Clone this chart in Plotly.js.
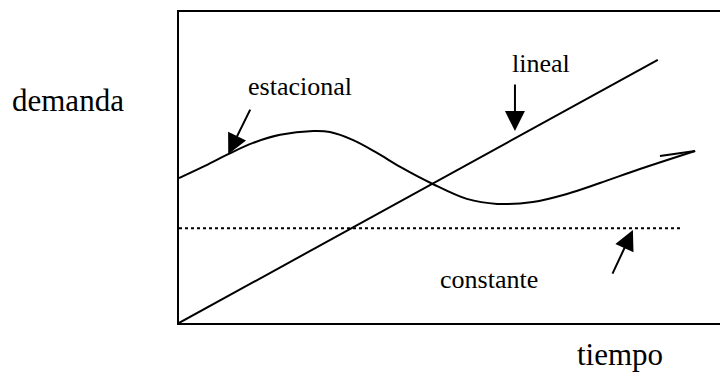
<!DOCTYPE html>
<html>
<head>
<meta charset="utf-8">
<script src="https://cdn.plot.ly/plotly-3.0.1.min.js"></script>
<style>html,body{margin:0;padding:0;background:#fff;}#chart{width:720px;height:374px;}</style>
</head>
<body>
<div id="chart"></div>
<script>
// Lineal demand (straight trend)
var linealX = [0, 88.5];
var linealY = [0, 84.6];
// Constant demand (dotted)
var constX = [0, 93.0];
var constY = [30.5, 30.5];
// Seasonal demand (wave)
var estacionalX = [0, 4.4, 9.1, 13.7, 18.7, 24.8, 27.9, 32.2, 36.6, 40.9, 46.9, 53.2, 58.8, 65.4, 71.7, 77.8, 85.2, 95.4];
var estacionalY = [46.6, 50.2, 54.3, 57.9, 60.5, 61.7, 61.4, 58.8, 54.7, 50.2, 44.7, 39.9, 38.3, 38.9, 41.5, 45.0, 49.5, 55.3];
// Small hook at the end of the seasonal line
var hookX = [95.4, 88.9];
var hookY = [55.3, 53.7];

// Labels
var labels = ["estacional", "lineal", "constante"];
var labelX = [22.4, 66.9, 57.3];
var labelY = [76.2, 83.6, 14.1];
// Arrows: tail -> tip
var arrowTailX = [13.3, 62.1, 80.0];
var arrowTailY = [69.1, 77.2, 15.4];
var arrowTipX = [9.1, 62.1, 83.9];
var arrowTipY = [54.3, 61.7, 29.9];

var axisTitleX = "tiempo";
var axisTitleY = "demanda";

var serif = "Liberation Serif, Times New Roman, serif";

var traces = [
  {x: linealX, y: linealY, mode: "lines", line: {color: "#000", width: 2}, hoverinfo: "skip", name: "lineal"},
  {x: constX, y: constY, mode: "lines", line: {color: "#000", width: 2, dash: "3px,3px"}, hoverinfo: "skip", name: "constante"},
  {x: estacionalX, y: estacionalY, mode: "lines", line: {color: "#000", width: 2, shape: "spline", smoothing: 1}, hoverinfo: "skip", name: "estacional"},
  {x: hookX, y: hookY, mode: "lines", line: {color: "#000", width: 2}, hoverinfo: "skip", name: "estacional"}
];

var annotations = [];
for (var i = 0; i < labels.length; i++) {
  annotations.push({x: labelX[i], y: labelY[i], xref: "x", yref: "y", text: labels[i], showarrow: false,
    font: {family: serif, size: 26, color: "#000"}, xanchor: "center", yanchor: "middle"});
  annotations.push({x: arrowTipX[i], y: arrowTipY[i], xref: "x", yref: "y", ax: arrowTailX[i], ay: arrowTailY[i],
    axref: "x", ayref: "y", text: "", showarrow: true, arrowhead: 2, arrowsize: 2, arrowwidth: 2,
    arrowcolor: "#000", standoff: 0, startstandoff: 0});
}
annotations.push({x: -0.206, y: 0.715, xref: "paper", yref: "paper", text: axisTitleY, showarrow: false,
  font: {family: serif, size: 31, color: "#000"}, xanchor: "center", yanchor: "middle"});
annotations.push({x: 0.815, y: -0.101, xref: "paper", yref: "paper", text: axisTitleX, showarrow: false,
  font: {family: serif, size: 31, color: "#000"}, xanchor: "center", yanchor: "middle"});

var layout = {
  width: 720, height: 374,
  margin: {l: 179, r: 0, t: 12, b: 51, pad: 0},
  paper_bgcolor: "#fff", plot_bgcolor: "#fff",
  showlegend: false,
  xaxis: {range: [0, 100], showgrid: false, zeroline: false, showticklabels: false, ticks: "",
    showline: true, mirror: true, linecolor: "#000", linewidth: 2, fixedrange: true},
  yaxis: {range: [0, 100], showgrid: false, zeroline: false, showticklabels: false, ticks: "",
    showline: true, mirror: false, linecolor: "#000", linewidth: 2, fixedrange: true},
  annotations: annotations
};

Plotly.newPlot("chart", traces, layout, {displayModeBar: false, staticPlot: true});
</script>
</body>
</html>
